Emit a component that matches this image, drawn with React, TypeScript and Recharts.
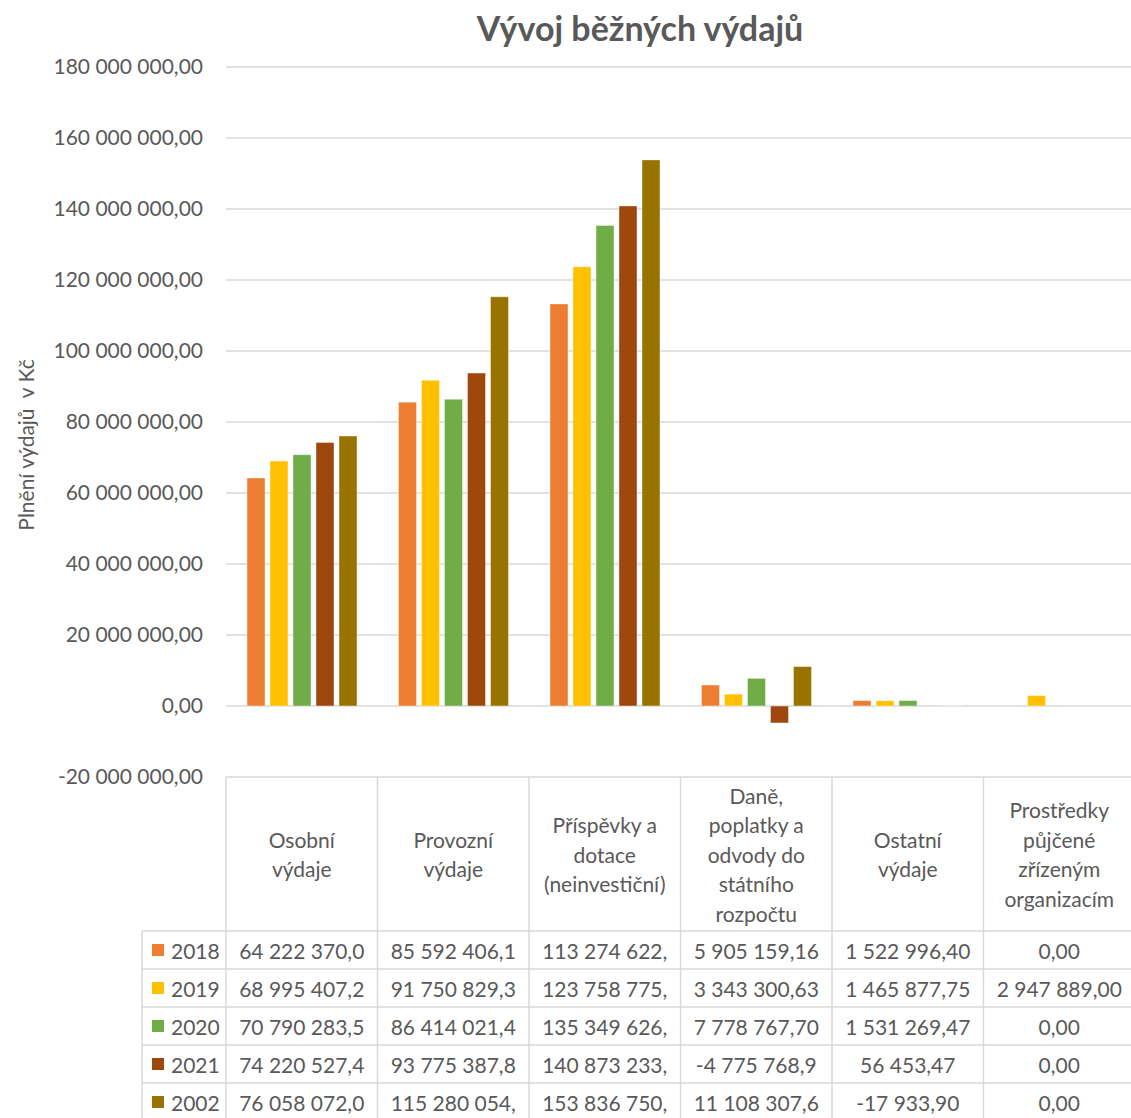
import { BarChart, Bar, XAxis, YAxis, CartesianGrid } from 'recharts'

// categories (header lines as shown in the data table)
const categoryLines = [
  ['Osobní', 'výdaje'],
  ['Provozní', 'výdaje'],
  ['Příspěvky a', 'dotace', '(neinvestiční)'],
  ['Daně,', 'poplatky a', 'odvody do', 'státního', 'rozpočtu'],
  ['Ostatní', 'výdaje'],
  ['Prostředky', 'půjčené', 'zřízeným', 'organizacím'],
]

const seriesNames = ['2018', '2019', '2020', '2021', '2002']
const seriesColors = ['#ED7D31', '#FFC000', '#70AD47', '#9E480E', '#997300']

const v2018 = [64222370.0, 85592406.1, 113274622.0, 5905159.16, 1522996.4, 0]
const v2019 = [68995407.2, 91750829.3, 123758775.0, 3343300.63, 1465877.75, 2947889.0]
const v2020 = [70790283.5, 86414021.4, 135349626.0, 7778767.7, 1531269.47, 0]
const v2021 = [74220527.4, 93775387.8, 140873233.0, -4775768.9, 56453.47, 0]
const v2002 = [76058072.0, 115280054.0, 153836750.0, 11108307.6, -17933.9, 0]
const seriesValues = [v2018, v2019, v2020, v2021, v2002]

const yTicks = [-20000000, 0, 20000000, 40000000, 60000000, 80000000, 100000000, 120000000, 140000000, 160000000, 180000000]

const data = categoryLines.map((lines, i) => {
  const row: any = { name: lines.join(' ') }
  seriesNames.forEach((s, k) => { row[s] = seriesValues[k][i] })
  return row
})

const TXT = '#595959'
const GRID = '#d9d9d9'
const FONT = 'Lato, "Open Sans", sans-serif'
const FS = 21

// chart geometry
const W = 1140
const H = 1118
const M = { top: 67, right: 5, left: 0, bottom: 0 }
const YW = 226
const BW = (W - M.left - M.right - YW) / categoryLines.length

const fmt = (v: number, dec = 2) => {
  const neg = v < 0
  const [int, frac] = Math.abs(v).toFixed(dec).split('.')
  const grouped = int.replace(/\B(?=(\d{3})+(?!\d))/g, ' ')
  return (neg ? '-' : '') + grouped + ',' + frac
}
// Excel cuts cell text that doesn't fit
const cellText = (v: number) => fmt(v).slice(0, 12)

const HEAD_H = 154
const ROW_H = 38

const TableTick = (props: any) => {
  const { x, y, payload } = props
  const i = payload.index
  const left = x - BW / 2
  const right = x + BW / 2
  const lines = categoryLines[i]
  const lh = 29.5
  const hy = y + HEAD_H / 2 - ((lines.length - 1) * lh) / 2
  const bottom = y + HEAD_H + ROW_H * seriesNames.length
  const last = i === categoryLines.length - 1
  return (
    <g fontFamily={FONT} fontSize={FS} fill={TXT}>
      <line x1={left} x2={left} y1={y} y2={bottom} stroke={GRID} strokeWidth={1.5} />
      {last && <line x1={right} x2={right} y1={y} y2={bottom} stroke={GRID} strokeWidth={1.5} />}
      {lines.map((t, j) => (
        <text key={j} x={x} y={hy + j * lh} textAnchor="middle" dominantBaseline="central">{t}</text>
      ))}
      {seriesNames.map((s, r) => (
        <g key={s}>
          <line x1={left} x2={right} y1={y + HEAD_H + r * ROW_H} y2={y + HEAD_H + r * ROW_H} stroke={GRID} strokeWidth={1.5} />
          <text x={x} y={y + HEAD_H + r * ROW_H + ROW_H / 2} textAnchor="middle" dominantBaseline="central">
            {cellText(seriesValues[r][i])}
          </text>
        </g>
      ))}
      {/* legend column */}
      {i === 0 && (
        <g>
          <line x1={left - 84} x2={left - 84} y1={y + HEAD_H} y2={bottom} stroke={GRID} strokeWidth={1.5} />
          {seriesNames.map((s, r) => {
            const cy = y + HEAD_H + r * ROW_H + ROW_H / 2
            return (
              <g key={s}>
                <line x1={left - 84} x2={left} y1={y + HEAD_H + r * ROW_H} y2={y + HEAD_H + r * ROW_H} stroke={GRID} strokeWidth={1.5} />
                <rect x={left - 74} y={cy - 6} width={12} height={12} fill={seriesColors[r]} />
                <text x={left - 55} y={cy} dominantBaseline="central">{s}</text>
              </g>
            )
          })}
        </g>
      )}
    </g>
  )
}

const YLabel = (props: any) => {
  const { viewBox } = props
  const cx = viewBox.x + 25
  const cy = 445
  return (
    <text x={cx} y={cy} transform={`rotate(-90, ${cx}, ${cy})`} textAnchor="middle" dominantBaseline="central"
      fontFamily={FONT} fontSize={FS} fill={TXT}>
      {'Plnění výdajů\u00A0 v Kč'}
    </text>
  )
}

export default function App() {
  return (
    <div style={{ position: 'absolute', left: 0, top: 0, width: 1131, height: 1118, overflow: 'hidden', background: '#fff' }}>
      <div style={{ position: 'absolute', left: 390, width: 500, top: 7, textAlign: 'center', fontFamily: FONT, fontWeight: 700, fontSize: 34, color: TXT, whiteSpace: 'pre' }}>
        Vývoj běžných výdajů
      </div>
      <BarChart width={W} height={H} data={data} margin={M} barSize={18} barGap={5}>
        <CartesianGrid vertical={false} stroke={GRID} strokeWidth={1.5} />
        <XAxis dataKey="name" height={H - M.top - 710} interval={0} axisLine={false} tickLine={false}
          tickSize={0} tickMargin={0} tick={<TableTick />} />
        <YAxis width={YW} domain={[-20000000, 180000000]} ticks={yTicks} axisLine={false} tickLine={false}
          tickSize={0} tickMargin={23} tickFormatter={(v: number) => fmt(v)}
          tick={{ fill: TXT, fontSize: FS, fontFamily: FONT }} label={<YLabel />} />
        {seriesNames.map((s, k) => (
          <Bar key={s} dataKey={s} fill={seriesColors[k]} stroke="#ffffff" strokeOpacity={0.4} isAnimationActive={false} />
        ))}
      </BarChart>
    </div>
  )
}
